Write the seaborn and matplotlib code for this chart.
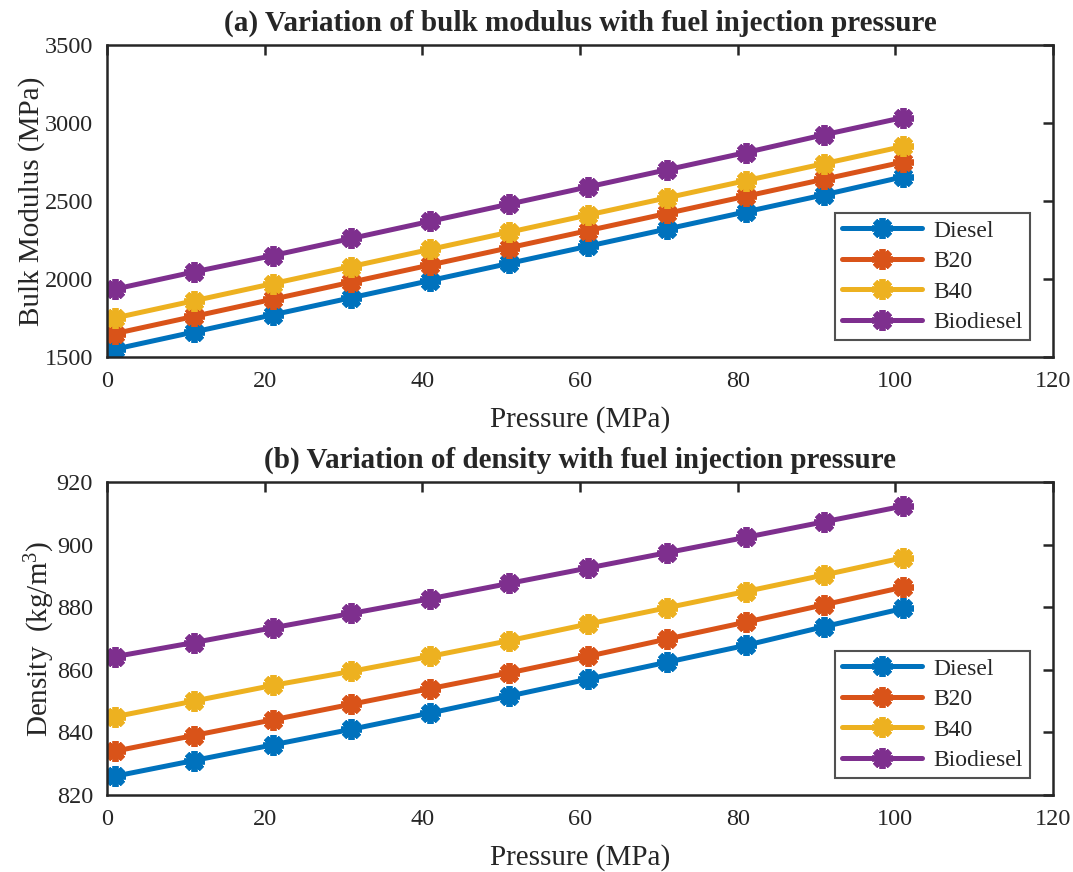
import numpy as np
import pandas as pd
import matplotlib
matplotlib.use("Agg")
import matplotlib.pyplot as plt
import seaborn as sns

# Injection pressure (MPa)
pressure = [1, 11, 21, 31, 41, 51, 61, 71, 81, 91, 101]
fuels = ["Diesel", "B20", "B40", "Biodiesel"]
colors = ["#0072BD", "#D95319", "#EDB120", "#7E2F8E"]

# Bulk modulus (MPa)
bulk_diesel = [1550, 1660, 1770, 1880, 1990, 2100, 2210, 2320, 2430, 2540, 2655]
bulk_b20 = [1650, 1760, 1870, 1980, 2090, 2200, 2310, 2420, 2530, 2640, 2750]
bulk_b40 = [1750, 1860, 1970, 2080, 2190, 2300, 2410, 2520, 2630, 2740, 2850]
bulk_bio = [1935, 2045, 2150, 2260, 2370, 2480, 2590, 2700, 2810, 2925, 3035]

# Density (kg/m^3)
dens_diesel = [826.0, 831.0, 836.0, 841.0, 846.2, 851.6, 857.0, 862.4, 867.8, 873.8, 879.6]
dens_b20 = [834.0, 839.0, 844.0, 849.0, 854.0, 859.0, 864.3, 869.8, 875.2, 880.8, 886.4]
dens_b40 = [845.0, 850.0, 855.0, 859.5, 864.3, 869.3, 874.6, 879.8, 885.0, 890.3, 895.8]
dens_bio = [864.2, 868.7, 873.4, 878.0, 882.7, 887.6, 892.5, 897.4, 902.3, 907.3, 912.3]

def long_frame(series, name):
    rows = []
    for fuel, vals in zip(fuels, series):
        for p, v in zip(pressure, vals):
            rows.append({"Pressure": p, name: v, "Fuel": fuel})
    return pd.DataFrame(rows)

df_bulk = long_frame([bulk_diesel, bulk_b20, bulk_b40, bulk_bio], "Bulk")
df_dens = long_frame([dens_diesel, dens_b20, dens_b40, dens_bio], "Density")

sns.set_style("white")
plt.rcParams["font.family"] = ["Liberation Serif", "DejaVu Serif"]
plt.rcParams["mathtext.fontset"] = "custom"
plt.rcParams["mathtext.rm"] = "Liberation Serif"
plt.rcParams["mathtext.it"] = "Liberation Serif:italic"
plt.rcParams["axes.linewidth"] = 1.8

fig = plt.figure(figsize=(10.73, 8.72), dpi=100)
W, H = 1073, 872
ax1 = fig.add_axes([107 / W, 1 - 357 / H, 946 / W, 312 / H])
ax2 = fig.add_axes([107 / W, 1 - 795 / H, 946 / W, 313 / H])

marker = (8, 2, 0)
MS, MEW, LW = 15, 4.2, 3.6
INK = "#262626"

def draw(ax, df, ycol, ylim, yticks, ylabel, title):
    sns.lineplot(data=df, x="Pressure", y=ycol, hue="Fuel", hue_order=fuels,
                 palette=colors, ax=ax, lw=LW, marker=marker, markersize=MS,
                 markeredgewidth=MEW, legend=True)
    for line, c in zip(ax.get_lines(), colors):
        line.set_markeredgecolor(c)
        line.set_markerfacecolor(c)
    ax.set_xlim(0, 120)
    ax.set_xticks(np.arange(0, 121, 20))
    ax.set_ylim(*ylim)
    ax.set_yticks(yticks)
    ax.tick_params(direction="in", length=7, width=1.8, labelsize=17.5,
                   top=True, right=True, colors=INK, pad=10)
    for s in ax.spines.values():
        s.set_color(INK)
    ax.set_xlabel("Pressure (MPa)", fontsize=21, color=INK, labelpad=10)
    ax.set_ylabel(ylabel, fontsize=21, color=INK, labelpad=0)
    ax.set_title(title, fontsize=21, fontweight="bold", pad=10)
    handles, labels = ax.get_legend_handles_labels()
    for h, c in zip(handles, colors):
        h.set_marker(marker)
        h.set_markersize(MS)
        h.set_markeredgewidth(MEW)
        h.set_markeredgecolor(c)
        h.set_markerfacecolor(c)
        h.set_linewidth(LW)
    leg = ax.legend(handles, labels, loc="lower right",
                    bbox_to_anchor=(0.976, 0.054), fontsize=17, frameon=True,
                    fancybox=False, handlelength=3.4, borderpad=0.3,
                    labelspacing=0.38, handletextpad=0.5, borderaxespad=0)
    leg.get_frame().set_edgecolor(INK)
    leg.get_frame().set_linewidth(1.5)

draw(ax1, df_bulk, "Bulk", (1500, 3500), np.arange(1500, 3501, 500),
     "Bulk Modulus (MPa)", "(a) Variation of bulk modulus with fuel injection pressure")
draw(ax2, df_dens, "Density", (820, 920), np.arange(820, 921, 20),
     r"Density  (kg/m$^3$)", "(b) Variation of density with fuel injection pressure")

fig.savefig("out.png", dpi=100)
